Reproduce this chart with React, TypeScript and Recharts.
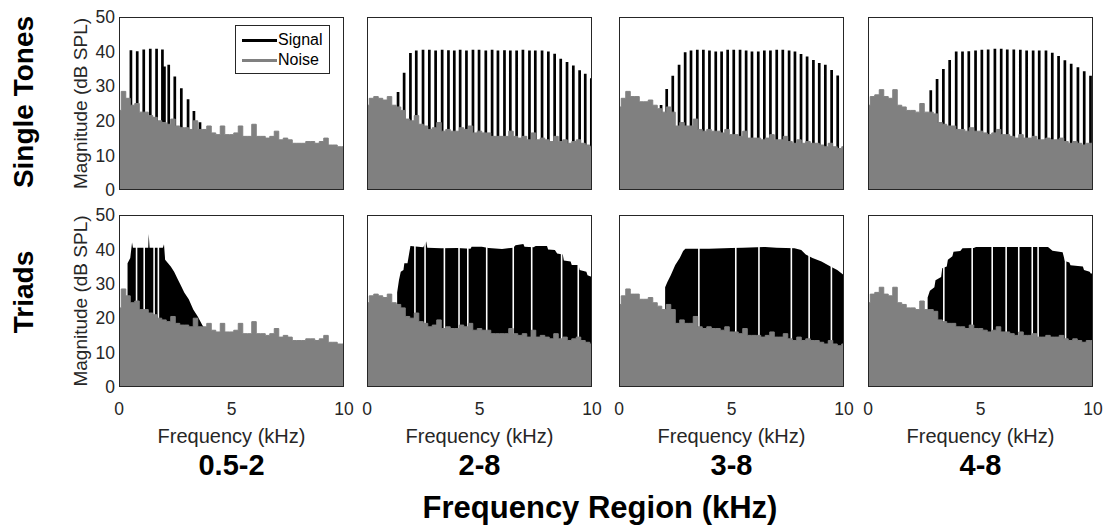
import React from "react";
import { ComposedChart, Area, XAxis, YAxis } from "recharts";

// ---- data -----------------------------------------------------------------

// frequency grid of the noise spectra (kHz)
const noiseFreq = [
  0, 0.2, 0.4, 0.6, 0.8, 1, 1.2, 1.4, 1.6, 1.8, 2, 2.2, 2.4, 2.6, 2.8, 3, 3.2,
  3.4, 3.6, 3.8, 4, 4.2, 4.4, 4.6, 4.8, 5, 5.2, 5.4, 5.6, 5.8, 6, 6.2, 6.4, 6.6,
  6.8, 7, 7.2, 7.4, 7.6, 7.8, 8, 8.2, 8.4, 8.6, 8.8, 9, 9.2, 9.4, 9.6, 9.8, 10,
];

// noise level (dB SPL) per frequency region, same masker for tones and triads
const noise0520 = [
  23, 28.5, 26.5, 24.5, 25, 22.5, 22.5, 21.5, 21, 20, 19.5, 19, 20.5, 18.5, 18,
  18, 17.5, 20, 17.5, 17.5, 18.5, 16.5, 16, 18.5, 16, 16, 16.5, 18.5, 15.5, 15.5,
  19, 15.5, 15.5, 15, 15.5, 17, 14.5, 15, 14.5, 13.5, 13.5, 13.5, 14, 14, 13.5,
  14, 15, 13, 13, 12.5, 12.5,
];
const noise2080 = [
  24.5, 26.5, 27, 26.5, 26, 27, 24.5, 24, 23, 20.5, 20, 21.5, 19, 18.5, 17.5, 18,
  19.5, 17, 17.5, 17, 17, 18, 17.5, 18.5, 16.5, 17, 16.5, 16.5, 15.5, 15.5, 15.5,
  15.5, 17, 15.5, 15, 15.5, 14.5, 16.5, 14.5, 15, 14.5, 14, 15.5, 14, 14.5, 13.5,
  14, 14.5, 13.5, 13, 12.5,
];
const noise3080 = [
  24, 26.5, 28.5, 27, 27, 25.5, 25.5, 26, 24.5, 23.5, 22.5, 24, 22.5, 18.5, 19.5,
  18.5, 18.5, 20.5, 17.5, 17, 17.5, 17, 17, 16.5, 17.5, 16, 16, 15.5, 17, 15, 15,
  15, 14.5, 15, 16, 14.5, 14.5, 15.5, 14, 13.5, 14.5, 13.5, 14, 13.5, 13.5, 13,
  12.5, 13.5, 12.5, 12, 12.5,
];
const noise4080 = [
  24.5, 27, 27.5, 29, 27, 26.5, 29, 24.5, 24, 23, 23, 22.5, 25, 22.5, 22.5, 22,
  19.5, 19, 18.5, 18.5, 17.5, 17.5, 17, 18, 17, 17, 16.5, 16, 16.5, 17.5, 16, 16,
  15.5, 15, 16, 15, 15, 15.5, 14.5, 14.5, 15, 14.5, 14.5, 15, 14, 13.5, 14, 13.5,
  13, 13.5, 13.5,
];

// single tones: harmonic frequency (kHz) and level (dB SPL)
const tone0520F = [0.53, 0.81, 1.1, 1.39, 1.67, 1.93, 2.02, 2.21, 2.48, 2.77, 3.07, 3.33, 3.6];
const tone0520L = [40.4, 40.1, 40.6, 40.8, 40.8, 40.6, 35.7, 36.2, 32.8, 29.4, 26.2, 22.8, 19.6];
const tone2080F = [
  1.38, 1.65, 1.93, 2.19, 2.49, 2.77, 3.05, 3.34, 3.62, 3.88, 4.14, 4.42, 4.71,
  4.98, 5.28, 5.56, 5.82, 6.11, 6.37, 6.65, 6.93, 7.22, 7.48, 7.78, 8.06, 8.34,
  8.61, 8.89, 9.17, 9.45, 9.7, 9.97,
];
const tone2080L = [
  28.3, 33.9, 39.6, 40.3, 40.5, 40.5, 40.3, 40.5, 40.4, 40.3, 40.5, 40.3, 40.5,
  40.5, 40.3, 40.5, 40.3, 40.4, 40.3, 40.3, 40.5, 40.3, 40.3, 40.3, 40, 39.4, 37.9,
  37, 36, 34.6, 33.6, 32.3,
];
const tone3080F = [
  1.87, 2.12, 2.39, 2.67, 2.94, 3.2, 3.48, 3.75, 4.02, 4.3, 4.56, 4.83, 5.1, 5.38,
  5.65, 5.91, 6.19, 6.46, 6.73, 7.01, 7.28, 7.56, 7.82, 8.09, 8.36, 8.64, 8.9,
  9.17, 9.45, 9.72,
];
const tone3080L = [
  24.6, 29.2, 33, 36.2, 39.8, 40.3, 40.5, 40.5, 40.3, 40, 40, 40.5, 40.5, 40.5,
  40.3, 40, 40, 40.3, 40.3, 40.5, 40.5, 40.3, 40, 39.3, 38.6, 37.6, 36.7, 36.2,
  34.7, 33.1,
];
const tone4080F = [
  2.79, 3.07, 3.35, 3.63, 3.92, 4.2, 4.48, 4.78, 5.06, 5.34, 5.64, 5.92, 6.19,
  6.48, 6.77, 7.05, 7.34, 7.61, 7.91, 8.19, 8.47, 8.75, 9.03, 9.33, 9.61, 9.89,
];
const tone4080L = [
  28.8, 32.1, 35, 37.6, 40, 40, 40.1, 40.3, 40.5, 40.6, 40.8, 40.8, 40.6, 40.6,
  40.5, 40.3, 40.3, 40.3, 40.3, 39.7, 38.7, 37.5, 36.5, 35.5, 34.3, 33,
];

// triads: outline of the dense line spectrum, plus the frequencies where it dips
const triad0520F = [
  0.38, 0.38, 0.5, 0.58, 0.62, 1.3, 1.32, 1.36, 1.95, 2.0, 2.05, 2.3, 2.45, 2.6,
  2.75, 2.9, 3.1, 3.3, 3.5, 3.7, 3.8, 3.8,
];
const triad0520L = [
  0, 36, 37.5, 42, 40.5, 40.5, 44.5, 40.5, 40.5, 41.5, 37, 35, 33.5, 31.5, 29.5,
  27.5, 25.5, 22.5, 20.5, 18, 17, 0,
];
const triad0520Dips = [0.78, 1.12, 1.56, 1.75];

const triad2080F = [
  1.34, 1.34, 1.42, 1.5, 1.62, 1.66, 1.8, 1.93, 2.5, 2.63, 2.68, 3.3, 4.0, 4.6,
  4.65, 5.1, 5.4, 6.0, 6.5, 6.6, 6.95, 7.0, 7.4, 7.5, 8.0, 8.05, 8.35, 8.45, 8.7,
  8.75, 9.05, 9.1, 9.4, 9.45, 9.75, 9.8, 10,
];
const triad2080L = [
  0, 27.5, 31, 33.5, 34, 36, 36, 41, 40.6, 42.3, 40.5, 40.3, 40.4, 40.2, 40.8,
  40.8, 40.4, 40.1, 40.5, 41.2, 41.6, 40.8, 40.6, 41, 41, 40, 39.8, 38.8, 38.5,
  36.8, 36.5, 35.5, 35.5, 34, 33.5, 32.5, 32,
];
const triad2080Dips = [2.13, 2.58, 3.44, 4.09, 4.48, 5.32, 6.5, 7.32, 8.65, 9.39];

const triad3080F = [
  2.05, 2.05, 2.15, 2.3, 2.5, 2.7, 2.85, 2.95, 4.0, 5.0, 5.5, 6.5, 7.0, 7.8, 8.1,
  8.3, 8.6, 9.0, 9.4, 9.7, 10,
];
const triad3080L = [
  0, 29, 30.5, 32.5, 35.5, 37.5, 39.5, 40.2, 40.2, 40.4, 40.5, 40.7, 40.5, 40.3,
  39.8, 38.5, 37.5, 36.5, 35, 34, 32.5,
];
const triad3080Dips = [3.55, 5.19, 6.22, 7.66, 8.45, 9.44];

const triad4080F = [
  2.65, 2.65, 2.75, 2.95, 3.0, 3.25, 3.3, 3.5, 3.55, 3.75, 3.8, 4.1, 4.2, 4.7,
  4.8, 8.0, 8.2, 8.65, 8.75, 8.95, 9.0, 9.55, 9.6, 9.85, 9.9, 10,
];
const triad4080L = [
  0, 26, 28, 29, 31, 32, 34.5, 35, 37, 38, 39.3, 39.5, 40.3, 40.4, 40.7, 40.7,
  39.6, 39.2, 36.6, 36.2, 35.4, 35, 34, 33.5, 33, 33,
];
const triad4080Dips = [3.37, 4.63, 5.52, 6.14, 6.7, 7.3, 7.56, 8.78];

const regionLabels = ["0.5-2", "2-8", "3-8", "4-8"];
const rowLabels = ["Single Tones", "Triads"];
const yTicks = [0, 10, 20, 30, 40, 50];
const xTicks = [0, 5, 10];
const legendItems = [
  { name: "Signal", color: "#000000" },
  { name: "Noise", color: "#808080" },
];

// ---- layout ---------------------------------------------------------------

const FONT = '"Liberation Sans", Arial, Helvetica, sans-serif';
const AXIS_COLOR = "#262626";
const PLOT_W = 225;
const COL_X = [119, 367, 619, 868];
const ROW_Y = [17, 215];
const ROW_H = [173, 172];
const Y_MAX = 50;
const LINE_HALF = 0.06; // half width of one tone line, kHz
const DIP_HALF = 0.035;

type Row = { f: number; signal: number | null; dip: number | null; noise: number | null };

const pt = (f: number, key: "signal" | "dip" | "noise", v: number): Row => ({
  f,
  signal: null,
  dip: null,
  noise: null,
  [key]: v,
});

function toneRows(freqs: number[], levels: number[]): Row[] {
  return freqs.flatMap((f, i) => [
    pt(f - LINE_HALF, "signal", 0),
    pt(f - LINE_HALF, "signal", levels[i]),
    pt(f + LINE_HALF, "signal", levels[i]),
    pt(f + LINE_HALF, "signal", 0),
  ]);
}

function outlineRows(freqs: number[], levels: number[]): Row[] {
  return freqs.map((f, i) => pt(f, "signal", levels[i]));
}

function panelRows(noise: number[], signal: Row[], dips: number[] = []): Row[] {
  const rows = noiseFreq.map((f, i) => pt(f, "noise", noise[i]));
  dips.forEach((g) => {
    rows.push(
      pt(g - DIP_HALF, "dip", 0),
      pt(g - DIP_HALF, "dip", Y_MAX),
      pt(g + DIP_HALF, "dip", Y_MAX),
      pt(g + DIP_HALF, "dip", 0)
    );
  });
  return rows.concat(signal);
}

const panels: Row[][][] = [
  [
    panelRows(noise0520, toneRows(tone0520F, tone0520L)),
    panelRows(noise2080, toneRows(tone2080F, tone2080L)),
    panelRows(noise3080, toneRows(tone3080F, tone3080L)),
    panelRows(noise4080, toneRows(tone4080F, tone4080L)),
  ],
  [
    panelRows(noise0520, outlineRows(triad0520F, triad0520L), triad0520Dips),
    panelRows(noise2080, outlineRows(triad2080F, triad2080L), triad2080Dips),
    panelRows(noise3080, outlineRows(triad3080F, triad3080L), triad3080Dips),
    panelRows(noise4080, outlineRows(triad4080F, triad4080L), triad4080Dips),
  ],
];

function Panel({ data, row, col }: { data: Row[]; row: number; col: number }) {
  const showY = col === 0;
  const showX = row === 1;
  const yW = showY ? 48 : 0;
  const xH = showX ? 52 : 0;
  const margin = { top: 14, right: 14, bottom: 14, left: 10 };
  const width = margin.left + yW + PLOT_W + margin.right;
  const height = margin.top + ROW_H[row] + xH + margin.bottom;
  const tick = { fontSize: 17.5, fill: AXIS_COLOR, fontFamily: FONT };

  return (
    <div
      style={{
        position: "absolute",
        left: COL_X[col] - margin.left - yW,
        top: ROW_Y[row] - margin.top,
      }}
    >
      <ComposedChart width={width} height={height} data={data} margin={margin}>
        <XAxis
          type="number"
          dataKey="f"
          domain={[0, 10]}
          ticks={xTicks}
          allowDataOverflow
          hide={!showX}
          height={xH}
          tick={tick}
          tickLine={false}
          axisLine={false}
          tickSize={2}
          tickMargin={14}
          interval={0}
          label={{
            value: "Frequency (kHz)",
            position: "insideBottom",
            offset: -4,
            fontSize: 20,
            fill: AXIS_COLOR,
            fontFamily: FONT,
          }}
        />
        <YAxis
          type="number"
          domain={[0, Y_MAX]}
          ticks={yTicks}
          allowDataOverflow
          hide={!showY}
          width={yW}
          tick={tick}
          tickLine={false}
          axisLine={false}
          tickSize={2}
          tickMargin={2}
          interval={0}
          label={{
            value: "Magnitude (dB SPL)",
            angle: -90,
            position: "insideLeft",
            offset: 9,
            fontSize: 19,
            fill: AXIS_COLOR,
            fontFamily: FONT,
            style: { textAnchor: "middle" },
          }}
        />
        <Area
          type="linear"
          dataKey="signal"
          connectNulls
          stroke="none"
          fill="#000000"
          fillOpacity={1}
          dot={false}
          activeDot={false}
          isAnimationActive={false}
        />
        <Area
          type="linear"
          dataKey="dip"
          connectNulls
          stroke="none"
          fill="#ffffff"
          fillOpacity={1}
          dot={false}
          activeDot={false}
          isAnimationActive={false}
        />
        <Area
          type="step"
          dataKey="noise"
          connectNulls
          stroke="#808080"
          strokeWidth={1}
          fill="#808080"
          fillOpacity={1}
          dot={false}
          activeDot={false}
          isAnimationActive={false}
        />
      </ComposedChart>
    </div>
  );
}

function Caption({
  text,
  x,
  y,
  size,
  bold = false,
  rotate = false,
}: {
  text: string;
  x: number;
  y: number;
  size: number;
  bold?: boolean;
  rotate?: boolean;
}) {
  return (
    <div
      style={{
        position: "absolute",
        left: x,
        top: y,
        transform: `translate(-50%, -50%)${rotate ? " rotate(-90deg)" : ""}`,
        fontSize: size,
        fontWeight: bold ? 700 : 400,
        lineHeight: 1,
        whiteSpace: "nowrap",
        color: "#000000",
      }}
    >
      {text}
    </div>
  );
}

export default function App() {
  return (
    <div
      style={{
        position: "absolute",
        left: 0,
        top: 0,
        width: 1107,
        height: 527,
        background: "#ffffff",
        fontFamily: FONT,
        overflow: "hidden",
      }}
    >
      {panels.map((rowPanels, r) =>
        rowPanels.map((data, c) => <Panel key={`${r}-${c}`} data={data} row={r} col={c} />)
      )}

      {/* axes boxes */}
      {ROW_Y.map((y, r) =>
        COL_X.map((x, c) => (
          <div
            key={`box-${r}-${c}`}
            style={{
              position: "absolute",
              left: x,
              top: y,
              width: PLOT_W,
              height: ROW_H[r],
              boxSizing: "border-box",
              border: `1px solid ${AXIS_COLOR}`,
              pointerEvents: "none",
            }}
          />
        ))
      )}

      {/* legend of the first panel */}
      <div
        style={{
          position: "absolute",
          left: 235,
          top: 25,
          width: 95,
          height: 49,
          boxSizing: "border-box",
          border: `1px solid ${AXIS_COLOR}`,
          background: "#ffffff",
        }}
      >
        {legendItems.map((item, i) => (
          <div
            key={item.name}
            style={{
              position: "absolute",
              left: 6,
              top: 4 + i * 20,
              height: 20,
              display: "flex",
              alignItems: "center",
            }}
          >
            <div style={{ width: 35, height: 3, background: item.color }} />
            <span style={{ fontSize: 16, marginLeft: 1, color: "#000000" }}>{item.name}</span>
          </div>
        ))}
      </div>

      <Caption text={rowLabels[0]} x={24} y={102} size={28} bold rotate />
      <Caption text={rowLabels[1]} x={24} y={292} size={28} bold rotate />
      {regionLabels.map((t, c) => (
        <Caption key={t} text={t} x={COL_X[c] + PLOT_W / 2} y={465} size={29} bold />
      ))}
      <Caption text="Frequency Region (kHz)" x={600} y={507} size={31} bold />
    </div>
  );
}
